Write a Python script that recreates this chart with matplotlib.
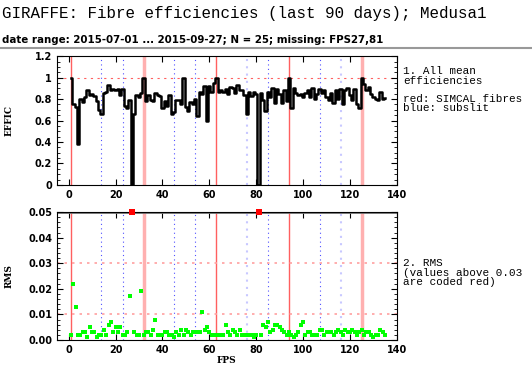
import numpy as np
import matplotlib.pyplot as plt
from matplotlib.ticker import MultipleLocator

# --- data ---
fps = np.arange(1, 136)
effic = [1.00, 0.75, 0.73, 0.38, 0.80, 0.77, 0.82, 0.88, 0.84, 0.85,
         0.83, 0.78, 0.70, 0.66, 0.86, 0.87, 0.93, 0.88, 0.89, 0.88,
         0.89, 0.84, 0.89, 0.74, 0.72, 0.79, 0.00, 0.66, 0.84, 0.82,
         0.86, 1.00, 0.78, 0.84, 0.79, 0.78, 0.86, 0.84, 0.83, 0.72,
         0.78, 0.74, 0.84, 0.66, 0.68, 0.79, 0.79, 0.75, 1.00, 0.73,
         0.69, 0.77, 0.75, 0.80, 0.64, 0.87, 0.85, 0.92, 0.60, 0.92,
         0.87, 0.95, 1.00, 0.87, 0.88, 0.87, 0.89, 0.85, 0.91, 0.90,
         0.86, 0.93, 0.88, 0.88, 0.84, 0.66, 0.87, 0.83, 0.87, 0.85,
         0.00, 0.86, 0.79, 0.69, 0.87, 0.82, 0.90, 0.76, 0.89, 0.85,
         0.76, 0.88, 0.78, 1.00, 0.72, 0.90, 0.86, 0.84, 0.85, 0.82,
         0.86, 0.88, 0.82, 0.90, 0.80, 0.85, 0.89, 0.86, 0.88, 0.82,
         0.79, 0.86, 0.76, 0.88, 0.80, 0.89, 0.75, 0.88, 0.90, 0.84,
         0.79, 0.89, 0.75, 0.72, 1.00, 0.94, 0.88, 0.91, 0.85, 0.82,
         0.80, 0.79, 0.87, 0.80, 0.81]
rms = [0.002, 0.022, 0.013, 0.002, 0.002, 0.003, 0.003, 0.001, 0.005, 0.003,
       0.003, 0.001, 0.002, 0.002, 0.004, 0.002, 0.006, 0.007, 0.003, 0.005,
       0.003, 0.005, 0.002, 0.002, 0.003, 0.017, np.nan, 0.003, 0.002, 0.002,
       0.019, 0.002, 0.003, 0.003, 0.002, 0.004, 0.008, 0.002, 0.002, 0.002,
       0.003, 0.003, 0.002, 0.002, 0.001, 0.003, 0.002, 0.004, 0.002, 0.004,
       0.003, 0.002, 0.003, 0.003, 0.003, 0.003, 0.011, 0.004, 0.005, 0.003,
       0.002, 0.002, 0.002, 0.002, 0.002, 0.002, 0.006, 0.003, 0.002, 0.004,
       0.003, 0.002, 0.004, 0.002, 0.002, 0.002, 0.002, 0.002, 0.001, 0.002,
       np.nan, 0.002, 0.006, 0.005, 0.007, 0.003, 0.004, 0.006, 0.006, 0.005,
       0.004, 0.003, 0.002, 0.003, 0.002, 0.001, 0.002, 0.003, 0.006, 0.007,
       0.002, 0.003, 0.003, 0.002, 0.002, 0.002, 0.004, 0.004, 0.002, 0.003,
       0.003, 0.003, 0.002, 0.003, 0.004, 0.003, 0.002, 0.004, 0.003, 0.003,
       0.004, 0.003, 0.002, 0.003, 0.004, 0.002, 0.003, 0.003, 0.002, 0.001,
       0.002, 0.002, 0.004, 0.003, 0.002]
missing = [27, 81]
simcal_thin = [1, 63, 94]
simcal_wide = [32, 125]
subslit_thin = [14, 23, 45, 54, 85, 107]
subslit_wide = [76, 116]

rms = np.array(rms)
effic = np.array(effic)

plt.rcParams['font.family'] = 'DejaVu Sans'
fig = plt.figure(figsize=(5.32, 3.72), dpi=100)

fig.text(0.003, 0.985, 'GIRAFFE: Fibre efficiencies (last 90 days); Medusa1',
         family='Liberation Mono', fontsize=11.4, va='top', ha='left')
fig.text(0.003, 0.905, 'date range: 2015-07-01 ... 2015-09-27; N = 25; missing: FPS27,81',
         fontsize=7.4, fontweight='bold', va='top', ha='left')
fig.add_artist(plt.Line2D([0, 1], [0.872, 0.872], color='0.6', lw=1.5))

ax1 = fig.add_axes([0.107, 0.503, 0.639, 0.346])
ax2 = fig.add_axes([0.107, 0.086, 0.639, 0.344])


def decorate(ax):
    for x in simcal_thin:
        ax.axvline(x, color='#ff6060', lw=1, zorder=1)
    for x in simcal_wide:
        ax.axvline(x, color='#ffb0b0', lw=2.5, zorder=1)
    for x in subslit_thin:
        ax.axvline(x, color='#5050ff', lw=0.8, ls=(0, (1, 3)), zorder=1)
    for x in subslit_wide:
        ax.axvline(x, color='#c8c8ff', lw=1.5, ls=(0, (1, 2.5)), zorder=1)
    ax.set_xlim(-5, 140)
    ax.xaxis.set_major_locator(MultipleLocator(20))
    ax.tick_params(direction='in', top=True, right=True, length=4, width=0.8,
                   labelsize=7)
    ax.tick_params(which='minor', direction='in', top=False, right=True, length=2)
    ax.yaxis.set_label_coords(-0.128, 0.5)


# top: mean efficiencies
decorate(ax1)
ax1.axhline(1.0, color='#ff6060', lw=0.8, ls=(0, (2, 4)), zorder=1)
ax1.plot(fps, effic, drawstyle='steps-mid', color='black', lw=1.8, zorder=3)
ax1.set_ylim(0, 1.2)
ax1.yaxis.set_minor_locator(MultipleLocator(0.05))
ax1.set_yticks([0, 0.2, 0.4, 0.6, 0.8, 1.0, 1.2])
ax1.set_yticklabels(['0', '0.2', '0.4', '0.6', '0.8', '1', '1.2'])
ax1.set_ylabel('EFFIC', fontsize=6.5, fontweight='bold', family='DejaVu Serif')

# bottom: rms
decorate(ax2)
for y in [0.01, 0.03]:
    ax2.axhline(y, color='#ffa0a0', lw=1.2, ls=(0, (1.5, 3)), zorder=1)
ax2.axhline(0.05, color='0.45', lw=2, zorder=2)
ax2.scatter(fps, rms, s=5, marker='s', color='#00ff00', lw=0, zorder=3)
ax2.scatter(missing, [0.05] * len(missing), s=14, marker='s', color='red',
            lw=0, zorder=4, clip_on=False)
ax2.set_ylim(0, 0.05)
ax2.yaxis.set_major_locator(MultipleLocator(0.01))
ax2.yaxis.set_minor_locator(MultipleLocator(0.002))
ax2.set_ylabel('RMS', fontsize=6.5, fontweight='bold', family='DejaVu Serif')
ax2.set_xlabel('FPS', fontsize=6.5, fontweight='bold', family='DejaVu Serif',
               labelpad=1)

for ax in (ax1, ax2):
    for lab in ax.get_xticklabels() + ax.get_yticklabels():
        lab.set_fontweight('bold')

side = dict(family='Liberation Mono', fontsize=7.9, va='top', ha='left',
            linespacing=0.95)
fig.text(0.758, 0.822, '1. All mean\nefficiencies', **side)
fig.text(0.758, 0.748, 'red: SIMCAL fibres\nblue: subslit', **side)
fig.text(0.758, 0.306, '2. RMS\n(values above 0.03\nare coded red)', **side)

fig.savefig('out.png', dpi=100)
